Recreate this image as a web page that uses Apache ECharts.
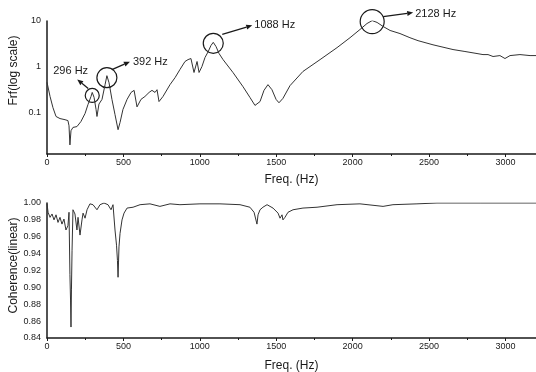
<!DOCTYPE html>
<html>
<head>
<meta charset="utf-8">
<script src="https://cdn.jsdelivr.net/npm/echarts@6/dist/echarts.min.js"></script>
<style>
  html, body { margin: 0; background: #fff; }
  #chart { width: 536px; height: 372px; }
</style>
</head>
<body>
<div id="chart"></div>
<script>
// Frf magnitude (log scale)
const frfHz = [
  0, 20, 39, 59, 85, 118, 137, 144, 150, 157,
  170, 196, 222, 249, 268, 288, 296, 308, 321, 327,
  340, 360, 380, 392, 406, 425, 445, 465, 478, 497,
  524, 550, 570, 589, 615, 641, 668, 687, 707, 720,
  733, 759, 805, 838, 870, 903, 923, 942, 962, 982,
  995, 1014, 1034, 1054, 1073, 1088, 1106, 1126, 1152, 1217,
  1283, 1328, 1361, 1374, 1394, 1420, 1446, 1472, 1499, 1518,
  1544, 1590, 1675, 1787, 1898, 1983, 2048, 2094, 2128, 2160,
  2199, 2245, 2310, 2375, 2428, 2526, 2657, 2735, 2814, 2853,
  2866, 2886, 2919, 2964, 2997, 3030, 3095, 3161, 3200
];
const frfVal = [
  0.45, 0.22, 0.125, 0.08, 0.072, 0.068, 0.065, 0.05, 0.019, 0.039,
  0.046, 0.048, 0.062, 0.093, 0.146, 0.22, 0.27, 0.21, 0.114, 0.08,
  0.15, 0.19, 0.40, 0.63, 0.44, 0.19, 0.088, 0.041, 0.059, 0.114,
  0.19, 0.27, 0.30, 0.13, 0.19, 0.22, 0.27, 0.30, 0.27, 0.31,
  0.17, 0.22, 0.40, 0.57, 0.86, 1.29, 1.42, 1.5, 0.74, 1.29,
  0.74, 1.0, 1.58, 2.1, 2.9, 3.4, 2.75, 1.93, 1.42, 0.74,
  0.36, 0.21, 0.14, 0.13, 0.17, 0.30, 0.40, 0.31, 0.19, 0.16,
  0.2, 0.38, 0.78, 1.42, 2.6, 4.3, 6.5, 8.8, 10.2, 9.3,
  7.6, 6.2, 5.3, 4.3, 3.7, 3.0, 2.36, 2.14, 1.93, 1.83,
  2.0, 1.83, 1.66, 1.74, 1.50, 1.74, 1.83, 1.74, 1.74
];

// Coherence (linear), lower panel
const cohHz = [
  0, 7, 20, 33, 46, 59, 72, 85, 98, 111,
  124, 137, 144, 150, 154, 157, 160, 164, 170, 183,
  196, 203, 216, 229, 236, 249, 262, 281, 301, 327,
  347, 373, 399, 419, 432, 445, 455, 461, 465, 468,
  471, 478, 491, 504, 524, 563, 609, 674, 739, 805,
  870, 1001, 1132, 1263, 1328, 1355, 1374, 1381, 1394, 1413,
  1440, 1479, 1512, 1525, 1538, 1544, 1557, 1577, 1610, 1675,
  1767, 1898, 2048, 2199, 2264, 2421, 2552, 2834, 3200
];
const cohVal = [
  0.999, 0.989, 0.983, 0.987, 0.980, 0.986, 0.977, 0.983, 0.975, 0.981,
  0.968, 0.973, 0.989, 0.915, 0.885, 0.853, 0.897, 0.944, 0.992, 0.987,
  0.968, 0.983, 0.962, 0.980, 0.988, 0.982, 0.992, 0.999, 0.998, 0.992,
  0.998, 1.0, 0.998, 0.992, 0.998, 0.968, 0.950, 0.932, 0.912, 0.930,
  0.948, 0.964, 0.980, 0.988, 0.994, 0.995, 0.998, 0.999, 0.996, 0.999,
  0.998, 0.999, 0.999, 0.998, 0.995, 0.989, 0.975, 0.986, 0.992, 0.995,
  0.998, 0.994, 0.988, 0.982, 0.986, 0.980, 0.983, 0.989, 0.992, 0.994,
  0.995, 0.998, 0.999, 0.996, 0.998, 0.999, 1.0, 1.0, 1.0
];

const peakHz = [296, 392, 1088, 2128];
const peakLabels = ["296 Hz", "392 Hz", "1088 Hz", "2128 Hz"];
const frfTicks = [0.1, 1, 10];

// circle / arrow / label placement relative to each peak, in pixels
const annoLayout = [
  { dy: 3, r: 7, from: [-4, -7], to: [-15, -16], text: [-39, -24] },
  { dy: 2, r: 10, from: [5, -8], to: [23, -16], text: [26, -16] },
  { dy: 1, r: 10, from: [9, -9], to: [39, -18], text: [41, -18] },
  { dy: 1, r: 12, from: [11, -5], to: [41, -9], text: [43, -8] },
];

const font = "Liberation Sans, Arial, sans-serif";
const ink = "#1a1a1a";

const xAxisBase = {
  type: "value",
  min: 0,
  max: 3200,
  interval: 500,
  name: "Freq. (Hz)",
  nameLocation: "middle",
  nameTextStyle: { fontFamily: font, fontSize: 12, color: ink },
  axisLine: { lineStyle: { color: ink, width: 1.5 } },
  axisTick: { length: 3, lineStyle: { color: ink } },
  minorTick: { show: true, splitNumber: 2, length: 2, lineStyle: { color: ink } },
  axisLabel: {
    fontFamily: font,
    fontSize: 9,
    color: ink,
    margin: 4,
    showMaxLabel: false,
    formatter: (v) => String(v),
  },
  splitLine: { show: false },
};

const chart = echarts.init(document.getElementById("chart"));
chart.setOption({
  animation: false,
  backgroundColor: "#fff",
  grid: [
    { left: 47, top: 21, width: 489, height: 133, outerBoundsMode: "none", containLabel: false },
    { left: 47, top: 203, width: 489, height: 135, outerBoundsMode: "none", containLabel: false },
  ],
  xAxis: [
    { ...xAxisBase, gridIndex: 0, nameGap: 20 },
    { ...xAxisBase, gridIndex: 1, nameGap: 22 },
  ],
  yAxis: [
    {
      gridIndex: 0,
      type: "log",
      logBase: 10,
      min: 0.012,
      max: 10,
      name: "Frf(log scale)",
      nameLocation: "middle",
      nameGap: 27,
      nameMoveOverlap: false,
      nameTextStyle: { fontFamily: font, fontSize: 12, color: ink, padding: [0, 0, 0, 34] },
      axisLine: { show: true, lineStyle: { color: ink, width: 1.5 } },
      axisTick: { show: false },
      axisLabel: {
        fontFamily: font,
        fontSize: 9,
        color: ink,
        margin: 6,
        formatter: (v) => {
          const t = frfTicks.find((k) => Math.abs(k - v) / k < 1e-6);
          return t === undefined ? "" : String(t);
        },
      },
      splitLine: { show: false },
    },
    {
      gridIndex: 1,
      type: "value",
      min: 0.84,
      max: 1.0,
      interval: 0.02,
      name: "Coherence(linear)",
      nameLocation: "middle",
      nameGap: 27,
      nameMoveOverlap: false,
      nameTextStyle: { fontFamily: font, fontSize: 12, color: ink, padding: [0, 0, 0, 10] },
      axisLine: { show: true, lineStyle: { color: ink, width: 1.5 } },
      axisTick: { show: false },
      axisLabel: {
        fontFamily: font,
        fontSize: 9,
        color: ink,
        margin: 6,
        formatter: (v) => v.toFixed(2),
      },
      splitLine: { show: false },
    },
  ],
  series: [
    {
      type: "line",
      xAxisIndex: 0,
      yAxisIndex: 0,
      data: frfHz.map((f, i) => [f, frfVal[i]]),
      symbol: "none",
      lineStyle: { color: "#333", width: 1 },
    },
    {
      type: "line",
      xAxisIndex: 1,
      yAxisIndex: 1,
      data: cohHz.map((f, i) => [f, cohVal[i]]),
      symbol: "none",
      lineStyle: { color: "#333", width: 1 },
    },
  ],
});

// annotations anchored at the peak data points
const graphics = [];
peakHz.forEach((hz, i) => {
  const idx = frfHz.indexOf(hz);
  const [px, py0] = chart.convertToPixel({ gridIndex: 0 }, [hz, frfVal[idx]]);
  const L = annoLayout[i];
  const cx = px, cy = py0 + L.dy;
  graphics.push({
    type: "circle",
    shape: { cx, cy, r: L.r },
    style: { fill: "none", stroke: ink, lineWidth: 1.2 },
  });
  const sx = cx + L.from[0], sy = cy + L.from[1];
  const tx = cx + L.to[0], ty = cy + L.to[1];
  const len = Math.hypot(tx - sx, ty - sy);
  const ux = (tx - sx) / len, uy = (ty - sy) / len;
  const bx = tx - ux * 6, by = ty - uy * 6;
  graphics.push({
    type: "line",
    shape: { x1: sx, y1: sy, x2: bx, y2: by },
    style: { stroke: ink, lineWidth: 1.2 },
  });
  graphics.push({
    type: "polygon",
    shape: { points: [[tx, ty], [bx - uy * 2.5, by + ux * 2.5], [bx + uy * 2.5, by - ux * 2.5]] },
    style: { fill: ink },
  });
  graphics.push({
    type: "text",
    x: cx + L.text[0],
    y: cy + L.text[1],
    style: {
      text: peakLabels[i],
      font: "11px " + font,
      fill: ink,
      textAlign: "left",
      textVerticalAlign: "middle",
    },
  });
});
chart.setOption({ graphic: graphics });
</script>
</body>
</html>
